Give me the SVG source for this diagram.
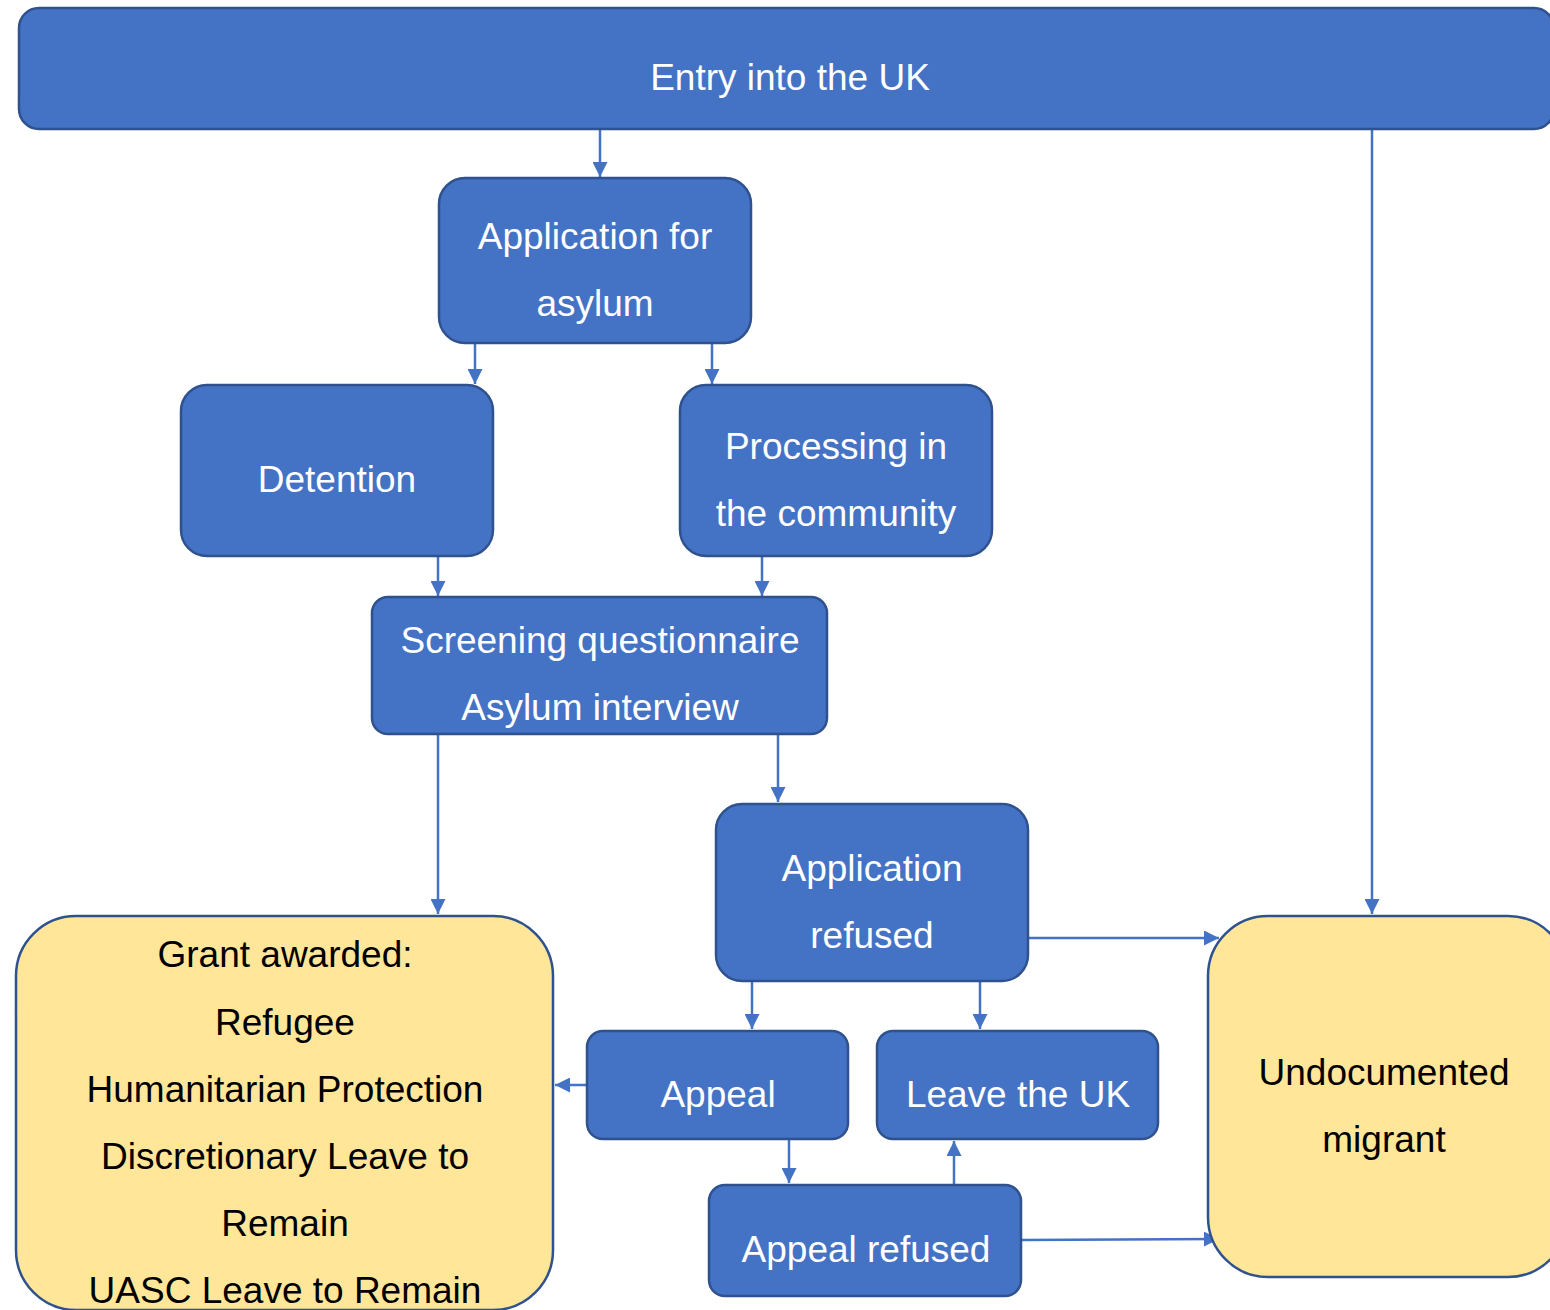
<svg xmlns="http://www.w3.org/2000/svg" width="1550" height="1310" viewBox="0 0 1550 1310">
<style>
.b{fill:#4472C4;stroke:#2F528F;stroke-width:2.5}
.y{fill:#FFE699;stroke:#2F528F;stroke-width:2.5}
.t{font-family:"Liberation Sans",Arial,sans-serif;font-size:37px;text-anchor:middle;fill:#fff}
.k{fill:#000}
.c{stroke:#4472C4;stroke-width:2.5;fill:none;marker-end:url(#a)}
</style>
<defs>
<marker id="a" viewBox="0 0 10 10" refX="10" refY="5" markerWidth="6" markerHeight="6" markerUnits="strokeWidth" orient="auto">
<path d="M0,0 L10,5 L0,10 z" fill="#4472C4"/>
</marker>
</defs>
<rect width="1550" height="1310" fill="#fff"/>
<g id="connectors">
<path class="c" d="M600,129 V177"/>
<path class="c" d="M475,343 V384"/>
<path class="c" d="M712,343 V384"/>
<path class="c" d="M438,556 V596"/>
<path class="c" d="M762,556 V596"/>
<path class="c" d="M438,734 V914"/>
<path class="c" d="M778,734 V802"/>
<path class="c" d="M1372,129 V914"/>
<path class="c" d="M1028,938 H1219"/>
<path class="c" d="M752,981 V1029"/>
<path class="c" d="M980,981 V1029"/>
<path class="c" d="M587,1085 H555"/>
<path class="c" d="M789,1139 V1183"/>
<path class="c" d="M954,1185 V1141"/>
<path class="c" d="M1021,1240 L1219,1239"/>
</g>
<g id="entry">
<rect class="b" x="19" y="8" width="1535" height="121" rx="20"/>
<text class="t" x="790" y="90">Entry into the UK</text>
</g>
<g id="application">
<rect class="b" x="439" y="178" width="312" height="165" rx="26"/>
<text class="t" x="595" y="249">Application for</text>
<text class="t" x="595" y="316">asylum</text>
</g>
<g id="detention">
<rect class="b" x="181" y="385" width="312" height="171" rx="26"/>
<text class="t" x="337" y="492">Detention</text>
</g>
<g id="processing">
<rect class="b" x="680" y="385" width="312" height="171" rx="26"/>
<text class="t" x="836" y="459">Processing in</text>
<text class="t" x="836" y="526">the community</text>
</g>
<g id="screening">
<rect class="b" x="372" y="597" width="455" height="137" rx="16"/>
<text class="t" x="600" y="653">Screening questionnaire</text>
<text class="t" x="600" y="720">Asylum interview</text>
</g>
<g id="refused">
<rect class="b" x="716" y="804" width="312" height="177" rx="26"/>
<text class="t" x="872" y="881">Application</text>
<text class="t" x="872" y="948">refused</text>
</g>
<g id="grant">
<rect class="y" x="16" y="916" width="537" height="394" rx="60"/>
<text class="t k" x="285" y="967">Grant awarded:</text>
<text class="t k" x="285" y="1035">Refugee</text>
<text class="t k" x="285" y="1102">Humanitarian Protection</text>
<text class="t k" x="285" y="1169">Discretionary Leave to</text>
<text class="t k" x="285" y="1236">Remain</text>
<text class="t k" x="285" y="1303">UASC Leave to Remain</text>
</g>
<g id="appeal">
<rect class="b" x="587" y="1031" width="261" height="108" rx="16"/>
<text class="t" x="718" y="1107">Appeal</text>
</g>
<g id="leave">
<rect class="b" x="877" y="1031" width="281" height="108" rx="16"/>
<text class="t" x="1018" y="1107">Leave the UK</text>
</g>
<g id="appealrefused">
<rect class="b" x="709" y="1185" width="312" height="111" rx="16"/>
<text class="t" x="866" y="1262">Appeal refused</text>
</g>
<g id="undocumented">
<rect class="y" x="1208" y="916" width="360" height="361" rx="60"/>
<text class="t k" x="1384" y="1085">Undocumented</text>
<text class="t k" x="1384" y="1152">migrant</text>
</g>
</svg>
